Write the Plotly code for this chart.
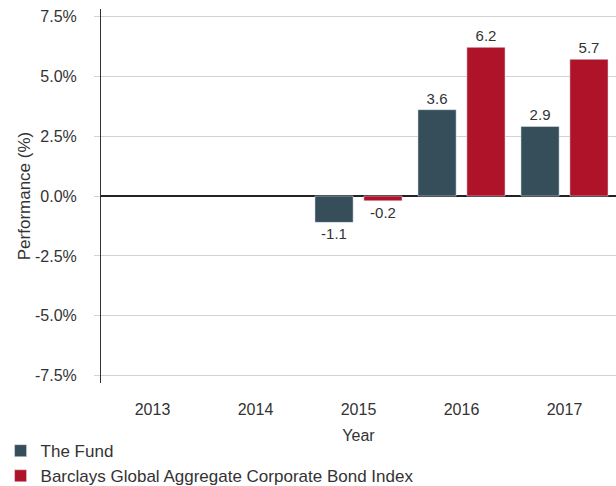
import plotly.graph_objects as go

years = ["2013", "2014", "2015", "2016", "2017"]
fund_values = [None, None, -1.1, 3.6, 2.9]
index_values = [None, None, -0.2, 6.2, 5.7]
fund_name = "The Fund"
index_name = "Barclays Global Aggregate Corporate Bond Index"
y_ticks = [-7.5, -5.0, -2.5, 0.0, 2.5, 5.0, 7.5]

FUND_COLOR = "#364D5A"
INDEX_COLOR = "#AE1329"
TEXT_COLOR = "#333333"
FONT = "Liberation Sans, Arial, sans-serif"

fig = go.Figure()
fig.add_trace(go.Bar(
    x=years, y=fund_values, name=fund_name,
    marker=dict(color=FUND_COLOR),
    text=[None if v is None else f"{v:.1f}" for v in fund_values],
    textposition="outside", cliponaxis=False,
    textfont=dict(size=15, color=TEXT_COLOR, family=FONT),
))
fig.add_trace(go.Bar(
    x=years, y=index_values, name=index_name,
    marker=dict(color=INDEX_COLOR),
    text=[None if v is None else f"{v:.1f}" for v in index_values],
    textposition="outside", cliponaxis=False,
    textfont=dict(size=15, color=TEXT_COLOR, family=FONT),
))

fig.update_layout(
    width=616, height=486,
    margin=dict(l=101, r=0, t=9, b=103, autoexpand=False),
    paper_bgcolor="white", plot_bgcolor="white",
    font=dict(family=FONT, color=TEXT_COLOR, size=16),
    barmode="group", bargap=0.05, bargroupgap=0.22,
    showlegend=True,
    legend=dict(
        orientation="v", x=-0.195, xanchor="left", y=-0.134, yanchor="top",
        font=dict(size=17, color=TEXT_COLOR, family=FONT),
        bgcolor="rgba(0,0,0,0)", tracegroupgap=0, itemclick=False,
    ),
)
fig.update_xaxes(
    type="category", categoryorder="array", categoryarray=years,
    showline=False, showgrid=False, ticks="",
    tickfont=dict(size=16, color=TEXT_COLOR),
    ticklabelstandoff=15,
    title=dict(text="Year", font=dict(size=16, color=TEXT_COLOR), standoff=12),
)
fig.update_yaxes(
    range=[-7.8, 7.8], tickvals=y_ticks,
    ticktext=[f"{v:.1f}%" for v in y_ticks],
    showgrid=True, gridcolor="#d3d3d3", gridwidth=1,
    zeroline=True, zerolinecolor="#222222", zerolinewidth=2,
    showline=True, linecolor="#333333", linewidth=1,
    ticks="outside", ticklen=6, tickcolor="#d3d3d3", tickwidth=1,
    ticklabelstandoff=14,
    tickfont=dict(size=16, color=TEXT_COLOR),
    title=dict(text="Performance (%)", font=dict(size=17, color=TEXT_COLOR), standoff=0),
)

fig.write_html("out.html")
